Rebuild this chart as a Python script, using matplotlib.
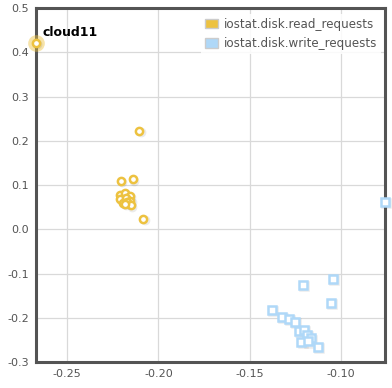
import numpy as np
import matplotlib.pyplot as plt
import matplotlib.patches as mpatches

# read_requests points
read_x = [-0.2670, -0.2104, -0.2204, -0.2138, -0.2082,
          -0.2209, -0.2183, -0.2158, -0.2209, -0.2180,
          -0.2153, -0.2195, -0.2170, -0.2150, -0.2185]
read_y = [0.422, 0.222, 0.1095, 0.113, 0.023,
          0.078, 0.081, 0.076, 0.069, 0.070,
          0.065, 0.060, 0.061, 0.054, 0.057]

# write_requests points
write_x = [-0.0760, -0.1045, -0.1209, -0.1055, -0.1379, -0.1322, -0.1284,
           -0.1255, -0.1231, -0.1204, -0.1187, -0.1164, -0.1217, -0.1180, -0.1127]
write_y = [0.062, -0.112, -0.125, -0.1655, -0.182, -0.198, -0.2025,
           -0.2086, -0.229, -0.2275, -0.2388, -0.2465, -0.254, -0.253, -0.265]

highlight = ("cloud11", read_x[0], read_y[0])

yellow = "#edc240"
blue = "#afd8f8"

fig = plt.figure(figsize=(3.92, 3.88), dpi=100)
ax = fig.add_axes([0.092, 0.067, 0.890, 0.912])

ax.set_xlim(min(read_x), max(write_x))
ax.set_ylim(-0.3, 0.5)
ax.set_xticks([-0.25, -0.20, -0.15, -0.10])
ax.set_xticklabels(["-0.25", "-0.20", "-0.15", "-0.10"])
ax.set_yticks(np.arange(-0.3, 0.51, 0.1))
ax.set_yticklabels(["-0.3", "-0.2", "-0.1", "0.0", "0.1", "0.2", "0.3", "0.4", "0.5"])
ax.grid(True, color="#d9d9d9", linewidth=0.9)
ax.set_axisbelow(True)
ax.tick_params(length=0, labelsize=8, colors="#545454", pad=5)
for s in ax.spines.values():
    s.set_color("#545454")
    s.set_linewidth(2.2)

# halo around highlighted point
ax.plot(highlight[1], highlight[2], "o", ms=12, color=yellow, alpha=0.45,
        mec="none", clip_on=False, zorder=3)

# shadows
ax.plot(np.array(read_x) + 0.0006, np.array(read_y) - 0.003, "o", ms=5.2, mfc="none",
        mec="#000000", mew=1.8, alpha=0.08, ls="none", clip_on=False, zorder=3)
ax.plot(np.array(write_x) + 0.0006, np.array(write_y) - 0.003, "s", ms=5.2, mfc="none",
        mec="#000000", mew=1.8, alpha=0.08, ls="none", clip_on=False, zorder=3)

ax.plot(read_x, read_y, "o", ms=5.2, mfc="white", mec=yellow, mew=1.8, ls="none",
        clip_on=False, zorder=4)
ax.plot(write_x, write_y, "s", ms=5.2, mfc="white", mec=blue, mew=1.8, ls="none",
        clip_on=False, zorder=4)

ax.annotate(highlight[0], (highlight[1], highlight[2]), xytext=(4.5, 5),
            textcoords="offset points", fontsize=9, fontweight="bold", color="black")

handles = [mpatches.Patch(facecolor=yellow, edgecolor="#cccccc", linewidth=1),
           mpatches.Patch(facecolor=blue, edgecolor="#cccccc", linewidth=1)]
leg = ax.legend(handles, ["iostat.disk.read_requests", "iostat.disk.write_requests"],
                loc="upper right", bbox_to_anchor=(0.995, 0.99), fontsize=8.6,
                frameon=True, framealpha=0.85, edgecolor="none", fancybox=False,
                handlelength=1.1, handleheight=0.9, handletextpad=0.5,
                labelspacing=0.55, borderpad=0.3, borderaxespad=0.2)
for t in leg.get_texts():
    t.set_color("#545454")

fig.savefig("out.png", dpi=100)
